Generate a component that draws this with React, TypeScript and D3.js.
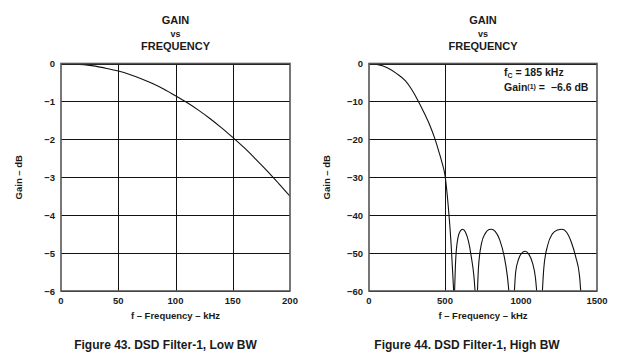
import React from "react";
import * as d3 from "d3";

// ---- Data ----
const lowFreq = [0, 10, 20, 30, 40, 50, 60, 70, 80, 90, 100, 110, 120, 130, 140, 150, 160, 170, 180, 190, 200];
const lowGain = [0, -0.01, -0.03, -0.07, -0.13, -0.2, -0.29, -0.4, -0.53, -0.68, -0.85, -1.03, -1.23, -1.45, -1.69, -1.95, -2.22, -2.52, -2.83, -3.16, -3.5];

const mainFreq = [0, 60, 120, 180, 240, 280, 320, 360, 400, 432, 460, 480, 500, 520, 540, 557, 563];
const mainGain = [0, -0.3, -1.1, -2.6, -4.6, -6.8, -9.6, -12.8, -16.3, -19.7, -23.3, -26.1, -29.5, -37, -47.5, -60, -64];

const lobe1Freq = [561, 570, 585, 600, 616, 635, 655, 675, 690, 703];
const lobe1Gain = [-63, -52, -46, -44.2, -43.7, -44.5, -47, -51.5, -56, -63];
const lobe2Freq = [711, 720, 740, 765, 790, 806, 830, 860, 890, 910, 927];
const lobe2Gain = [-63, -54, -47.5, -44.8, -43.8, -43.7, -44.3, -46.5, -51, -56, -63];
const lobe3Freq = [953, 965, 985, 1010, 1028, 1050, 1075, 1095, 1109];
const lobe3Gain = [-63, -55, -51.5, -49.8, -49.5, -50.2, -52.5, -56.5, -63];
const lobe4Freq = [1137, 1150, 1175, 1205, 1240, 1271, 1300, 1330, 1360, 1385, 1398];
const lobe4Gain = [-63, -54, -48, -45, -43.9, -43.7, -44.5, -47, -51, -56, -63];

const lowXTicks = [0, 50, 100, 150, 200];
const lowYTicks = [0, -1, -2, -3, -4, -5, -6];
const highXTicks = [0, 500, 1000, 1500];
const highYTicks = [0, -10, -20, -30, -40, -50, -60];
const highVGrid = [500];

const titleLines = ["GAIN", "vs", "FREQUENCY"];
const xLabel = "f \u2013 Frequency \u2013 kHz";
const yLabel = "Gain \u2013 dB";
const caption1 = "Figure 43. DSD Filter-1, Low BW";
const caption2 = "Figure 44. DSD Filter-1, High BW";

const FONT = "'Liberation Sans', Arial, Helvetica, sans-serif";
const TXT = "#1a1a1a";

type Series = { f: number[]; g: number[] };

function fmt(v: number) {
  return v < 0 ? "\u2212" + Math.abs(v) : String(v);
}

function Panel(props: {
  id: string;
  x0: number;
  x1: number;
  xDomain: [number, number];
  yDomain: [number, number];
  xTicks: number[];
  yTicks: number[];
  vGrid: number[];
  series: Series[];
  caption: string;
  captionShift: number;
  children?: React.ReactNode;
}) {
  const { id, x0, x1, xDomain, yDomain, xTicks, yTicks, vGrid, series, caption, captionShift } = props;
  const top = 63.5;
  const bottom = 291;
  const x = d3.scaleLinear().domain(xDomain).range([x0, x1]);
  const y = d3.scaleLinear().domain(yDomain).range([top, bottom]);
  const line = d3
    .line<[number, number]>()
    .x((d) => x(d[0]))
    .y((d) => y(d[1]))
    .curve(d3.curveMonotoneX);
  const cx = (x0 + x1) / 2;
  return (
    <g>
      <defs>
        <clipPath id={id}>
          <rect x={x0} y={top} width={x1 - x0} height={bottom - top} />
        </clipPath>
      </defs>
      {titleLines.map((t, i) => (
        <text
          key={t}
          x={cx}
          y={[24, 37, 50][i]}
          textAnchor="middle"
          fontFamily={FONT}
          fontWeight="bold"
          fontSize={i === 1 ? 9 : 11}
          fill={TXT}
        >
          {t}
        </text>
      ))}
      {yTicks.map((t) => (
        <line key={"h" + t} x1={x0} x2={x1} y1={Math.round(y(t)) + 0.5} y2={Math.round(y(t)) + 0.5} stroke="#111" strokeWidth={1} />
      ))}
      {vGrid.map((t) => (
        <line key={"v" + t} x1={Math.round(x(t)) + 0.5} x2={Math.round(x(t)) + 0.5} y1={top} y2={bottom} stroke="#111" strokeWidth={1} />
      ))}
      <g clipPath={`url(#${id})`}>
        {series.map((s, i) => (
          <path
            key={i}
            d={line(s.f.map((f, j) => [f, s.g[j]] as [number, number])) || ""}
            fill="none"
            stroke="#111"
            strokeWidth={1.1}
          />
        ))}
      </g>
      <rect x={x0} y={top} width={x1 - x0} height={bottom - top} fill="none" stroke="#555" strokeWidth={1.6} />
      {yTicks.map((t) => (
        <text
          key={"yt" + t}
          x={x0 - 6}
          y={y(t) + 3.5}
          textAnchor="end"
          fontFamily={FONT}
          fontWeight="bold"
          fontSize={9.5}
          fill={TXT}
        >
          {fmt(t)}
        </text>
      ))}
      {xTicks.map((t) => (
        <text
          key={"xt" + t}
          x={x(t)}
          y={304}
          textAnchor="middle"
          fontFamily={FONT}
          fontWeight="bold"
          fontSize={9.5}
          fill={TXT}
        >
          {fmt(t)}
        </text>
      ))}
      <text x={cx} y={319} textAnchor="middle" fontFamily={FONT} fontWeight="bold" fontSize={9.5} fill={TXT}>
        {xLabel}
      </text>
      <text
        transform={`translate(${x0 - 39},${(top + bottom) / 2}) rotate(-90)`}
        textAnchor="middle"
        fontFamily={FONT}
        fontWeight="bold"
        fontSize={9.5}
        fill={TXT}
      >
        {yLabel}
      </text>
      <text x={cx + captionShift} y={349} textAnchor="middle" fontFamily={FONT} fontWeight="bold" fontSize={12} fill={TXT}>
        {caption}
      </text>
      {props.children}
    </g>
  );
}

export default function App() {
  return (
    <svg width={620} height={360} style={{ position: "absolute", left: 0, top: 0, background: "#fff" }}>
      <rect width={620} height={360} fill="#fff" />
      <Panel
        id="clipLow"
        x0={61}
        x1={290}
        xDomain={[0, 200]}
        yDomain={[0, -6]}
        xTicks={lowXTicks}
        yTicks={lowYTicks}
        vGrid={[50, 100, 150]}
        series={[{ f: lowFreq, g: lowGain }]}
        caption={caption1}
        captionShift={-10}
      />
      <Panel
        id="clipHigh"
        x0={369}
        x1={597}
        xDomain={[0, 1500]}
        yDomain={[0, -60]}
        xTicks={highXTicks}
        yTicks={highYTicks}
        vGrid={highVGrid}
        series={[
          { f: mainFreq, g: mainGain },
          { f: lobe1Freq, g: lobe1Gain },
          { f: lobe2Freq, g: lobe2Gain },
          { f: lobe3Freq, g: lobe3Gain },
          { f: lobe4Freq, g: lobe4Gain },
        ]}
        caption={caption2}
        captionShift={-16}
      >
        <text x={504} y={76} fontFamily={FONT} fontSize={10.5} fill={TXT} fontWeight={600}>
          f<tspan fontSize={7} dy={2}>C</tspan>
          <tspan dy={-2}> = 185 kHz</tspan>
        </text>
        <text x={504} y={91} fontFamily={FONT} fontSize={10.5} fill={TXT} fontWeight={600} xmlSpace="preserve">
          Gain<tspan fontSize={7} dy={-2.5}>(1)</tspan>
          <tspan dy={2.5}>{" =  \u22126.6 dB"}</tspan>
        </text>
      </Panel>
    </svg>
  );
}
